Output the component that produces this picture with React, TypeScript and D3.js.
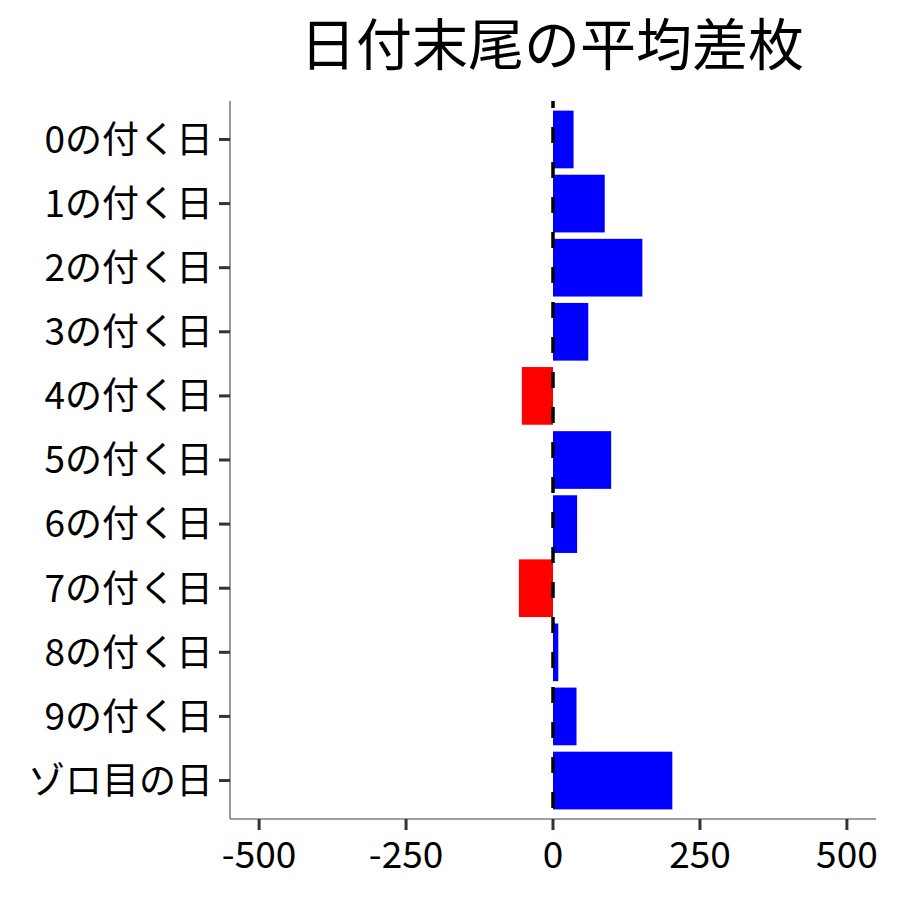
import React from "react";
import * as d3 from "d3";

const categories = ["0の付く日", "1の付く日", "2の付く日", "3の付く日", "4の付く日", "5の付く日", "6の付く日", "7の付く日", "8の付く日", "9の付く日", "ゾロ目の日"];
const values = [35, 88, 152, 60, -53, 99, 41, -58, 9, 40, 203];
const xTicks = [-500, -250, 0, 250, 500];
const title = "日付末尾の平均差枚";

const W = 900, H = 900;
const left = 230, right = 876, top = 101, bottom = 819;
const FONT = "'Noto Sans CJK JP', 'Noto Sans', sans-serif";

export default function App() {
  const x = d3.scaleLinear().domain([-549.5, 549.5]).range([left, right]);
  const step = (bottom - top) / (categories.length - 1 + 1.2);
  const y = d3.scalePoint<string>().domain(categories).range([top + 0.6 * step, bottom - 0.6 * step]);
  const bh = step * 0.9;
  return (
    <svg width={W} height={H} style={{ position: "absolute", left: 0, top: 0, background: "#fff" }} fontFamily={FONT}>
      <rect x={0} y={0} width={W} height={H} fill="#fff" />
      <text x={(left + right) / 2 - 1} y={65} textAnchor="middle" fontSize={56} fill="#000">{title}</text>
      {categories.map((c, i) => {
        const v = values[i];
        const x0 = x(Math.min(0, v)), x1 = x(Math.max(0, v));
        return <rect key={c} x={x0} y={(y(c) as number) - bh / 2} width={x1 - x0} height={bh} fill={v < 0 ? "#ff0000" : "#0000ff"} />;
      })}
      <line x1={x(0)} x2={x(0)} y1={top} y2={bottom} stroke="#000" strokeWidth={3.5} strokeDasharray="16,19" strokeDashoffset={9} />
      <line x1={left} x2={left} y1={top} y2={bottom} stroke="#808080" strokeWidth={1.6} />
      <line x1={left} x2={right} y1={bottom} y2={bottom} stroke="#808080" strokeWidth={1.6} />
      {categories.map((c) => (
        <g key={c}>
          <line x1={left - 11} x2={left} y1={y(c)} y2={y(c)} stroke="#333" strokeWidth={3} />
          <text x={left - 17} y={(y(c) as number)} dy="0.36em" textAnchor="end" fontSize={37} fill="#000">{c}</text>
        </g>
      ))}
      {xTicks.map((t) => (
        <g key={t}>
          <line x1={x(t)} x2={x(t)} y1={bottom} y2={bottom + 11} stroke="#333" strokeWidth={3} />
          <text x={x(t)} y={868} textAnchor="middle" fontSize={37} fill="#000">{t}</text>
        </g>
      ))}
    </svg>
  );
}
